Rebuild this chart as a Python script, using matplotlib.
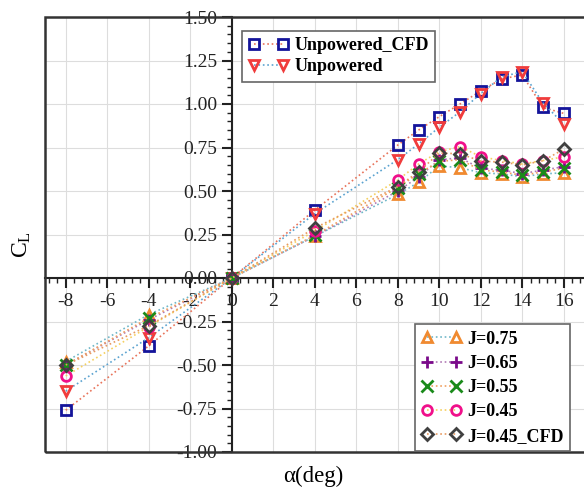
import matplotlib
matplotlib.use("Agg")
import matplotlib.pyplot as plt
from matplotlib.patches import Rectangle
from matplotlib.ticker import MultipleLocator, FormatStrFormatter

plt.rcParams['font.family'] = ['Liberation Serif', 'DejaVu Serif']
plt.rcParams['axes.unicode_minus'] = False

alpha = [-8, -4, 0, 4, 8, 9, 10, 11, 12, 13, 14, 15, 16]

cl_unpowered_cfd = [-0.76, -0.39, 0.0, 0.39, 0.764, 0.85, 0.927, 1.0, 1.075, 1.144, 1.167, 0.98, 0.946]
cl_unpowered = [-0.65, -0.343, 0.0, 0.37, 0.68, 0.77, 0.866, 0.955, 1.06, 1.155, 1.186, 1.005, 0.885]
cl_j075 = [-0.48, -0.21, 0.0, 0.24, 0.48, 0.55, 0.644, 0.634, 0.605, 0.598, 0.582, 0.598, 0.605]
cl_j065 = [-0.50, -0.24, 0.0, 0.24, 0.50, 0.58, 0.68, 0.69, 0.63, 0.62, 0.60, 0.62, 0.64]
cl_j055 = [-0.50, -0.23, 0.0, 0.245, 0.52, 0.60, 0.67, 0.68, 0.62, 0.61, 0.59, 0.61, 0.63]
cl_j045 = [-0.563, -0.28, 0.0, 0.27, 0.563, 0.655, 0.726, 0.755, 0.697, 0.675, 0.655, 0.675, 0.697]
cl_j045_cfd = [-0.50, -0.274, 0.0, 0.287, 0.525, 0.61, 0.718, 0.714, 0.672, 0.666, 0.65, 0.674, 0.74]

# (data, label, marker, marker colour, line colour)
series_top = [
    (cl_unpowered_cfd, 'Unpowered_CFD', 's', '#14149a', '#e8735a'),
    (cl_unpowered, 'Unpowered', 'v', '#f03c3c', '#5ba3d0'),
]
series_bottom = [
    (cl_j075, 'J=0.75', '^', '#f08a30', '#6fb7c8'),
    (cl_j065, 'J=0.65', '+', '#7a0a8a', '#b07ab5'),
    (cl_j055, 'J=0.55', 'x', '#1a8a1a', '#f0a060'),
    (cl_j045, 'J=0.45', 'o', '#f0108a', '#f5d060'),
    (cl_j045_cfd, 'J=0.45_CFD', 'D', '#404040', '#e89a60'),
]

fig = plt.figure(figsize=(5.84, 4.93), dpi=100)
ax = fig.add_axes([45 / 584, 41 / 493, 541.6 / 584, 435 / 493])

def draw(items):
    handles = []
    for ys, lab, mk, mc, lc in items:
        ms = 9 if mk in ('+', 'x') else 7
        if mk == 'D':
            ms = 6
        h, = ax.plot(alpha, ys, linestyle=':', color=lc, lw=1.2,
                     marker=mk, ms=ms, mfc='none', mec=mc, mew=2.0,
                     label=lab, zorder=3)
        handles.append(h)
    return handles

h1 = draw(series_top)
h2 = draw(series_bottom)

ax.set_xlim(-9, 17.1)
ax.set_ylim(-1.0, 1.5)

for s in ['top', 'right']:
    ax.spines[s].set_visible(False)
ax.spines['left'].set_position(('data', 0))
ax.spines['bottom'].set_position(('data', 0))
ax.spines['left'].set_linewidth(1.5)
ax.spines['bottom'].set_linewidth(1.5)
ax.spines['left'].set_color('#222222')
ax.spines['bottom'].set_color('#222222')
ax.add_patch(Rectangle((0, 0), 1, 1, transform=ax.transAxes, fill=False,
                       lw=1.8, ec='#333333', zorder=5, clip_on=False))

ax.xaxis.set_major_locator(MultipleLocator(2))
ax.xaxis.set_minor_locator(MultipleLocator(0.4))
ax.yaxis.set_major_locator(MultipleLocator(0.25))
ax.yaxis.set_minor_locator(MultipleLocator(0.05))
ax.yaxis.set_major_formatter(FormatStrFormatter('%.2f'))
ax.tick_params(which='major', length=7, width=1.5, labelsize=14, colors='#222222')
ax.tick_params(which='minor', length=3.5, width=1.0, colors='#222222')
ax.grid(True, which='major', color='#dddddd', lw=0.8, zorder=0)
ax.set_axisbelow(True)

fig.text(22 / 584, 1 - 245 / 493, '$\\mathregular{C_L}$', rotation=90,
         fontsize=17, ha='center', va='center')
fig.text(313 / 584, 1 - 476 / 493, '\u03b1(deg)', fontsize=16.5,
         ha='center', va='center')

common = dict(prop={'weight': 'bold', 'size': 13}, fancybox=False,
              edgecolor='#666666', framealpha=1, borderpad=0.35,
              numpoints=2, handlelength=2.2, handletextpad=0.35,
              borderaxespad=0)
leg1 = ax.legend(handles=h1, loc='upper left',
                 bbox_to_anchor=((242 - 45) / 541.6, (452 - 31) / 435),
                 labelspacing=0.22, **common)
ax.add_artist(leg1)
leg2 = ax.legend(handles=h2, loc='lower left',
                 bbox_to_anchor=((415 - 45) / 541.6, (452 - 451) / 435),
                 labelspacing=0.4, **common)
leg1.get_frame().set_linewidth(1.2)
leg2.get_frame().set_linewidth(1.2)

fig.savefig('out.png', dpi=100)
